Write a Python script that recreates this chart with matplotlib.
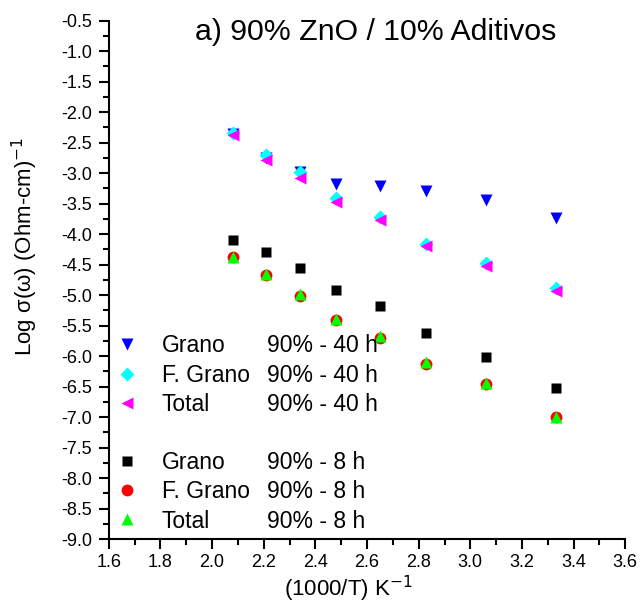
import numpy as np
import matplotlib
matplotlib.use('Agg')
import matplotlib.pyplot as plt
from matplotlib.lines import Line2D
from matplotlib.ticker import MultipleLocator, FormatStrFormatter

plt.rcParams['font.family'] = ['Liberation Sans', 'DejaVu Sans']

# 1000/T para cada temperatura medida
inv_T = [2.08, 2.21, 2.34, 2.48, 2.65, 2.83, 3.06, 3.33]

# Muestras sinterizadas 40 h
grano_40 = [-2.36, -2.76, -2.98, -3.18, -3.21, -3.30, -3.44, -3.73]
fgrano_40 = [-2.34, -2.70, -2.98, -3.41, -3.72, -4.16, -4.47, -4.88]
total_40 = [-2.38, -2.79, -3.08, -3.47, -3.77, -4.20, -4.52, -4.93]

# Muestras sinterizadas 8 h
grano_8 = [-4.10, -4.29, -4.55, -4.91, -5.18, -5.62, -6.01, -6.52]
fgrano_8 = [-4.38, -4.67, -5.01, -5.41, -5.70, -6.13, -6.46, -7.00]
total_8 = [-4.37, -4.65, -4.99, -5.39, -5.67, -6.10, -6.44, -7.00]

nombres = ['Grano', 'F. Grano', 'Total']
sufijo_40 = '90% - 40 h'
sufijo_8 = '90% - 8 h'

fig = plt.figure(figsize=(6.4, 6.07), dpi=100)
ax = fig.add_axes([0.170, 0.112, 0.807, 0.854])

ms = 9
ax.plot(inv_T, grano_40, 'v', color='#0000FF', ms=ms, mec='none')
ax.plot(inv_T, fgrano_40, 'D', color='#00FFFF', ms=ms - 1.5, mec='none')
ax.plot(inv_T, total_40, '<', color='#FF00FF', ms=ms, mec='none')
ax.plot(inv_T, grano_8, 's', color='black', ms=ms - 1.5, mec='none')
ax.plot(inv_T, fgrano_8, 'o', color='#FF0000', ms=ms - 0.5, mec='none')
ax.plot(inv_T, total_8, '^', color='#00FF00', ms=ms, mec='none')

ax.set_xlim(1.6, 3.6)
ax.set_ylim(-9.0, -0.5)
ax.xaxis.set_major_locator(MultipleLocator(0.2))
ax.xaxis.set_minor_locator(MultipleLocator(0.1))
ax.yaxis.set_major_locator(MultipleLocator(0.5))
ax.yaxis.set_minor_locator(MultipleLocator(0.25))
ax.xaxis.set_major_formatter(FormatStrFormatter('%.1f'))
ax.yaxis.set_major_formatter(FormatStrFormatter('%.1f'))

for s in ['top', 'right']:
    ax.spines[s].set_visible(False)
for s in ['left', 'bottom']:
    ax.spines[s].set_linewidth(1.5)
ax.tick_params(which='major', direction='out', length=7, width=1.5, labelsize=13)
ax.tick_params(axis='y', which='major', pad=5)
ax.tick_params(which='minor', direction='out', length=4, width=1.5)

ax.set_xlabel('(1000/T) K$^{-1}$', fontsize=16)
ax.xaxis.set_label_coords(0.463, -0.068)
ax.set_ylabel('Log σ(ω) (Ohm-cm)$^{-1}$', fontsize=16)
ax.yaxis.set_label_coords(-0.134, 0.565)
ax.text(0.517, 1.006, 'a) 90% ZnO / 10% Aditivos', transform=ax.transAxes,
        ha='center', va='top', fontsize=21.8)

# leyenda: fila vacia entre los dos grupos
handles = [
    Line2D([], [], ls='none', marker='v', color='#0000FF', ms=ms, mec='none'),
    Line2D([], [], ls='none', marker='D', color='#00FFFF', ms=ms - 1.5, mec='none'),
    Line2D([], [], ls='none', marker='<', color='#FF00FF', ms=ms, mec='none'),
    Line2D([], [], ls='none'),
    Line2D([], [], ls='none', marker='s', color='black', ms=ms - 1.5, mec='none'),
    Line2D([], [], ls='none', marker='o', color='#FF0000', ms=ms - 0.5, mec='none'),
    Line2D([], [], ls='none', marker='^', color='#00FF00', ms=ms, mec='none'),
]
labels = nombres + [' '] + nombres
sufijos = [sufijo_40] * 3 + [''] + [sufijo_8] * 3
leg = ax.legend(handles, labels, loc='upper left', bbox_to_anchor=(0.0, 0.408),
                frameon=False, fontsize=16.5, handlelength=1.0, handletextpad=1.0,
                labelspacing=0.27, borderaxespad=0.0, borderpad=0.3)

# segunda columna de la leyenda alineada con cada fila
fig.canvas.draw()
inv = ax.transAxes.inverted()
x_ax = (267 - 109) / (0.807 * 640)
for t, suf in zip(leg.get_texts(), sufijos):
    if not suf:
        continue
    bb = t.get_window_extent()
    _, y0 = inv.transform((0, (bb.y0 + bb.y1) / 2))
    ax.text(x_ax, y0, suf, transform=ax.transAxes, fontsize=16.5,
            ha='left', va='center')

fig.savefig('out.png', dpi=100)
